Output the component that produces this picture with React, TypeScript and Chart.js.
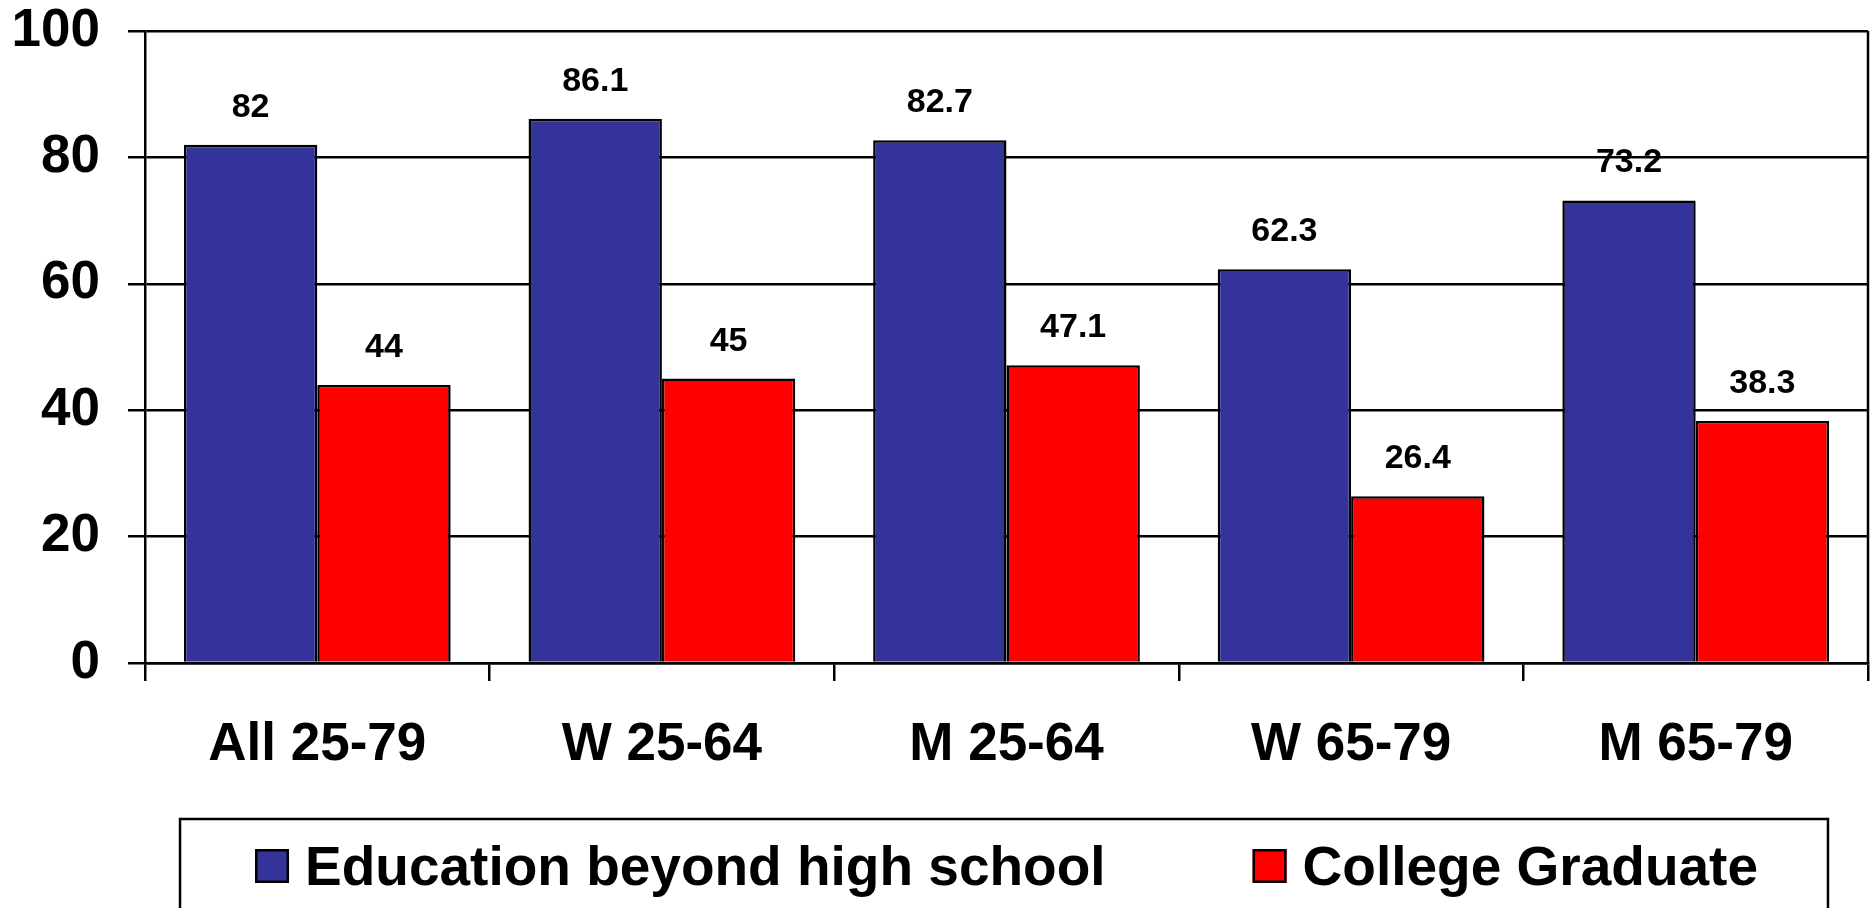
import React, { useEffect, useRef } from "react";
import { Chart, registerables } from "chart.js";

Chart.register(...registerables);

const categories = ["All 25-79", "W 25-64", "M 25-64", "W 65-79", "M 65-79"];
const educationBeyondHS = [82, 86.1, 82.7, 62.3, 73.2];
const collegeGraduate = [44, 45, 47.1, 26.4, 38.3];
const seriesNames = ["Education beyond high school", "College Graduate"];
const seriesColors = ["#333399", "#FF0000"];
const yTicks = [0, 20, 40, 60, 80, 100];

const FONT = "'Liberation Sans', Arial, sans-serif";

const decorPlugin = {
  id: "decor",
  afterDatasetsDraw(chart: any) {
    const ctx = chart.ctx;
    const area = chart.chartArea;
    ctx.save();
    // right border of plot area
    ctx.strokeStyle = "#000";
    ctx.lineWidth = 2.5;
    ctx.beginPath();
    ctx.moveTo(area.right, area.top);
    ctx.lineTo(area.right, area.bottom);
    ctx.stroke();
    // value labels
    ctx.fillStyle = "#000";
    ctx.font = `bold 34px ${FONT}`;
    ctx.textAlign = "center";
    ctx.textBaseline = "alphabetic";
    chart.data.datasets.forEach((ds: any, di: number) => {
      const meta = chart.getDatasetMeta(di);
      meta.data.forEach((bar: any, i: number) => {
        ctx.fillText(String(ds.data[i]), bar.x, bar.y - 28);
      });
    });
    ctx.restore();
  },
  afterDraw(chart: any) {
    // legend (box with entries), built from the datasets
    const ctx = chart.ctx;
    const area = chart.chartArea;
    const datasets = chart.data.datasets;
    const box = 34;
    const gapText = 16;
    const gapItems = 147;
    ctx.save();
    ctx.font = `bold 55px ${FONT}`;
    const widths = datasets.map((d: any) => ctx.measureText(d.label).width);
    let total = 0;
    widths.forEach((w: number, i: number) => {
      total += box + gapText + w + (i < widths.length - 1 ? gapItems : 0);
    });
    const center = (area.left + area.right) / 2;
    let x = center - total / 2;
    const legendTop = chart.height - 89;
    const boxTop = legendTop + 30;
    const baseline = legendTop + 66;
    const startX = x;
    datasets.forEach((d: any, i: number) => {
      ctx.fillStyle = d.backgroundColor;
      ctx.fillRect(x, boxTop, box, box);
      ctx.strokeStyle = "#000";
      ctx.lineWidth = 2.5;
      ctx.strokeRect(x + 1.25, boxTop + 1.25, box - 2.5, box - 2.5);
      ctx.fillStyle = "#000";
      ctx.textAlign = "left";
      ctx.textBaseline = "alphabetic";
      ctx.fillText(d.label, x + box + gapText, baseline);
      x += box + gapText + widths[i] + gapItems;
    });
    const endX = x - gapItems;
    ctx.strokeStyle = "#000";
    ctx.lineWidth = 2.5;
    ctx.strokeRect(startX - 75, legendTop, endX - startX + 145, 400);
    ctx.restore();
  },
};

export default function App() {
  const canvasRef = useRef<HTMLCanvasElement | null>(null);

  useEffect(() => {
    if (!canvasRef.current) return;
    const chart = new Chart(canvasRef.current, {
      type: "bar",
      data: {
        labels: categories,
        datasets: [
          {
            label: seriesNames[0],
            data: educationBeyondHS,
            backgroundColor: seriesColors[0],
            borderColor: "#000",
            borderWidth: 2.5,
            categoryPercentage: 0.774,
            barPercentage: 1.0,
          },
          {
            label: seriesNames[1],
            data: collegeGraduate,
            backgroundColor: seriesColors[1],
            borderColor: "#000",
            borderWidth: 2.5,
            categoryPercentage: 0.774,
            barPercentage: 1.0,
          },
        ],
      },
      options: {
        animation: false,
        responsive: true,
        maintainAspectRatio: false,
        layout: { padding: { left: 12, right: 5, top: 0, bottom: 130 } },
        plugins: {
          tooltip: { enabled: false },
          legend: { display: false },
        },
        scales: {
          x: {
            offset: true,
            grid: {
              display: true,
              drawOnChartArea: false,
              drawTicks: true,
              tickLength: 18,
              color: "#000",
              lineWidth: 2.5,
              offset: true,
            },
            border: { display: true, color: "#000", width: 2.5 },
            ticks: {
              color: "#000",
              font: { family: FONT, size: 53, weight: "bold" },
              padding: 33,
              maxRotation: 0,
              autoSkip: false,
            },
            afterFit: (scale: any) => {
              scale.height = 115;
            },
          },
          y: {
            min: 0,
            max: 100,
            afterBuildTicks: (scale: any) => {
              scale.ticks = yTicks.map((v) => ({ value: v }));
            },
            afterFit: (scale: any) => {
              scale.width = 133;
              scale.paddingTop = 31;
              scale.paddingBottom = 31;
            },
            grid: {
              color: "#000",
              lineWidth: 2.5,
              tickLength: 17,
              drawTicks: true,
            },
            border: { display: true, color: "#000", width: 2.5 },
            ticks: {
              color: "#000",
              font: { family: FONT, size: 53, weight: "bold" },
              padding: 28,
            },
          },
        },
      },
      plugins: [decorPlugin],
    });
    return () => chart.destroy();
  }, []);

  return (
    <div
      style={{
        position: "absolute",
        left: 0,
        top: 0,
        width: "1873px",
        height: "908px",
        background: "#fff",
        overflow: "hidden",
      }}
    >
      <canvas ref={canvasRef} />
    </div>
  );
}
